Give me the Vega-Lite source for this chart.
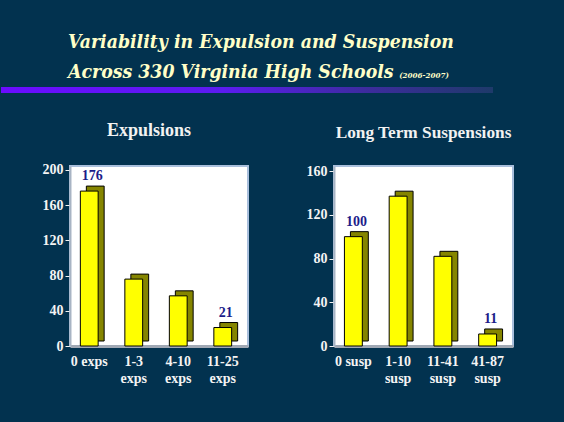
{
  "$schema": "https://vega.github.io/schema/vega-lite/v6.json",
  "background": "#02324f",
  "padding": {"left": 0, "right": 52, "top": 32, "bottom": 40},
  "title": {
    "text": ["Variability in Expulsion and Suspension", "Across 330 Virginia High Schools"],
    "anchor": "start",
    "dx": 68,
    "offset": -10,
    "font": "'DejaVu Serif Condensed', 'DejaVu Serif'",
    "fontSize": 19.3,
    "fontStyle": "italic",
    "fontWeight": "bold",
    "lineHeight": 30,
    "color": "#ffffc8"
  },
  "spacing": 27,
  "vconcat": [
    {
      "width": 423,
      "height": 6,
      "data": {"values": [{"item": "divider"}]},
      "title": {
        "text": "(2006-2007)",
        "anchor": "end",
        "dx": -44,
        "offset": 7,
        "font": "'DejaVu Serif Condensed', 'DejaVu Serif'",
        "fontSize": 8,
        "fontStyle": "italic",
        "fontWeight": "bold",
        "color": "#ffffc8"
      },
      "view": {"stroke": null},
      "mark": {
        "type": "rect",
        "xOffset": -69,
        "color": {
          "gradient": "linear",
          "x1": 0, "x2": 1, "y1": 0, "y2": 0,
          "stops": [
            {"offset": 0, "color": "#6a0cff"},
            {"offset": 0.45, "color": "#5c1cf0"},
            {"offset": 0.75, "color": "#3c2c9c"},
            {"offset": 1, "color": "#1e3a6a"}
          ]
        }
      },
      "encoding": {"x": {"value": 0}, "x2": {"value": "width"}}
    },
    {
      "spacing": 54,
      "hconcat": [
        {
          "width": 178,
          "height": 180,
          "title": {"text": "Expulsions", "offset": 23, "dx": -10},
          "view": {"fill": "white", "stroke": "#a9bfdc", "strokeWidth": 2},
          "data": {"values": [
            {"category": "0 exps", "count": 176},
            {"category": "1-3 exps", "count": 76},
            {"category": "4-10 exps", "count": 57},
            {"category": "11-25 exps", "count": 21}
          ]},
          "encoding": {
            "x": {"field": "category", "type": "nominal", "sort": null,
                  "scale": {"paddingInner": 0, "paddingOuter": 0}},
            "y": {"field": "count", "type": "quantitative",
                  "scale": {"domain": [0, 204.5], "nice": false},
                  "axis": {"values": [0, 40, 80, 120, 160, 200], "minExtent": 69, "maxExtent": 69}}
          },
          "layer": [
            {"mark": {"type": "bar", "width": {"band": 0.4}, "color": "#858500", "stroke": "black", "strokeWidth": 1,
                      "xOffset": 3, "x2Offset": 3, "yOffset": -5, "y2Offset": -5}},
            {"mark": {"type": "bar", "width": {"band": 0.4}, "color": "#ffff00", "stroke": "black", "strokeWidth": 1,
                      "xOffset": -3, "x2Offset": -3}},
            {"transform": [{"filter": "datum.category == '0 exps' || datum.category == '11-25 exps'"}],
             "mark": {"type": "text", "baseline": "bottom", "dy": -8, "font": "Liberation Serif", "fontWeight": "bold", "fontSize": 14, "color": "#1c1c8a"},
             "encoding": {"text": {"field": "count", "type": "quantitative"}}}
          ]
        },
        {
          "width": 179,
          "height": 180,
          "title": {"text": "Long Term Suspensions", "offset": 23, "fontSize": 17.3},
          "view": {"fill": "white", "stroke": "#a9bfdc", "strokeWidth": 2},
          "data": {"values": [
            {"category": "0 susp", "count": 100},
            {"category": "1-10 susp", "count": 137},
            {"category": "11-41 susp", "count": 82},
            {"category": "41-87 susp", "count": 11}
          ]},
          "encoding": {
            "x": {"field": "category", "type": "nominal", "sort": null,
                  "scale": {"paddingInner": 0, "paddingOuter": 0}},
            "y": {"field": "count", "type": "quantitative",
                  "scale": {"domain": [0, 164.6], "nice": false},
                  "axis": {"values": [0, 40, 80, 120, 160], "minExtent": 30, "maxExtent": 30}}
          },
          "layer": [
            {"mark": {"type": "bar", "width": {"band": 0.4}, "color": "#858500", "stroke": "black", "strokeWidth": 1,
                      "xOffset": 3, "x2Offset": 3, "yOffset": -5, "y2Offset": -5}},
            {"mark": {"type": "bar", "width": {"band": 0.4}, "color": "#ffff00", "stroke": "black", "strokeWidth": 1,
                      "xOffset": -3, "x2Offset": -3}},
            {"transform": [{"filter": "datum.category == '0 susp' || datum.category == '41-87 susp'"}],
             "mark": {"type": "text", "baseline": "bottom", "dy": -8, "font": "Liberation Serif", "fontWeight": "bold", "fontSize": 14, "color": "#1c1c8a"},
             "encoding": {"text": {"field": "count", "type": "quantitative"}}}
          ]
        }
      ]
    }
  ],
  "config": {
    "font": "Liberation Serif",
    "view": {"stroke": null},
    "title": {"color": "#f2f2f2", "fontSize": 18, "fontWeight": "bold", "font": "Liberation Serif"},
    "axis": {
      "title": null,
      "grid": false,
      "labelFont": "Liberation Serif",
      "labelFontWeight": "bold",
      "labelFontSize": 14,
      "labelColor": "#f4f4f4",
      "tickColor": "#f4f4f4",
      "domainColor": "#a8b4c4"
    },
    "axisY": {"tickSize": 5, "labelPadding": 2, "domainWidth": 2},
    "axisX": {
      "ticks": false,
      "labelAngle": 0,
      "labelPadding": 8,
      "labelLineHeight": 17,
      "labelBaseline": "top",
      "labelOffset": -3,
      "domainWidth": 3,
      "domainColor": "#a0a8b4",
      "labelExpr": "indexof(datum.value, '0 ') == 0 ? datum.value : split(datum.value, ' ')"
    }
  }
}
